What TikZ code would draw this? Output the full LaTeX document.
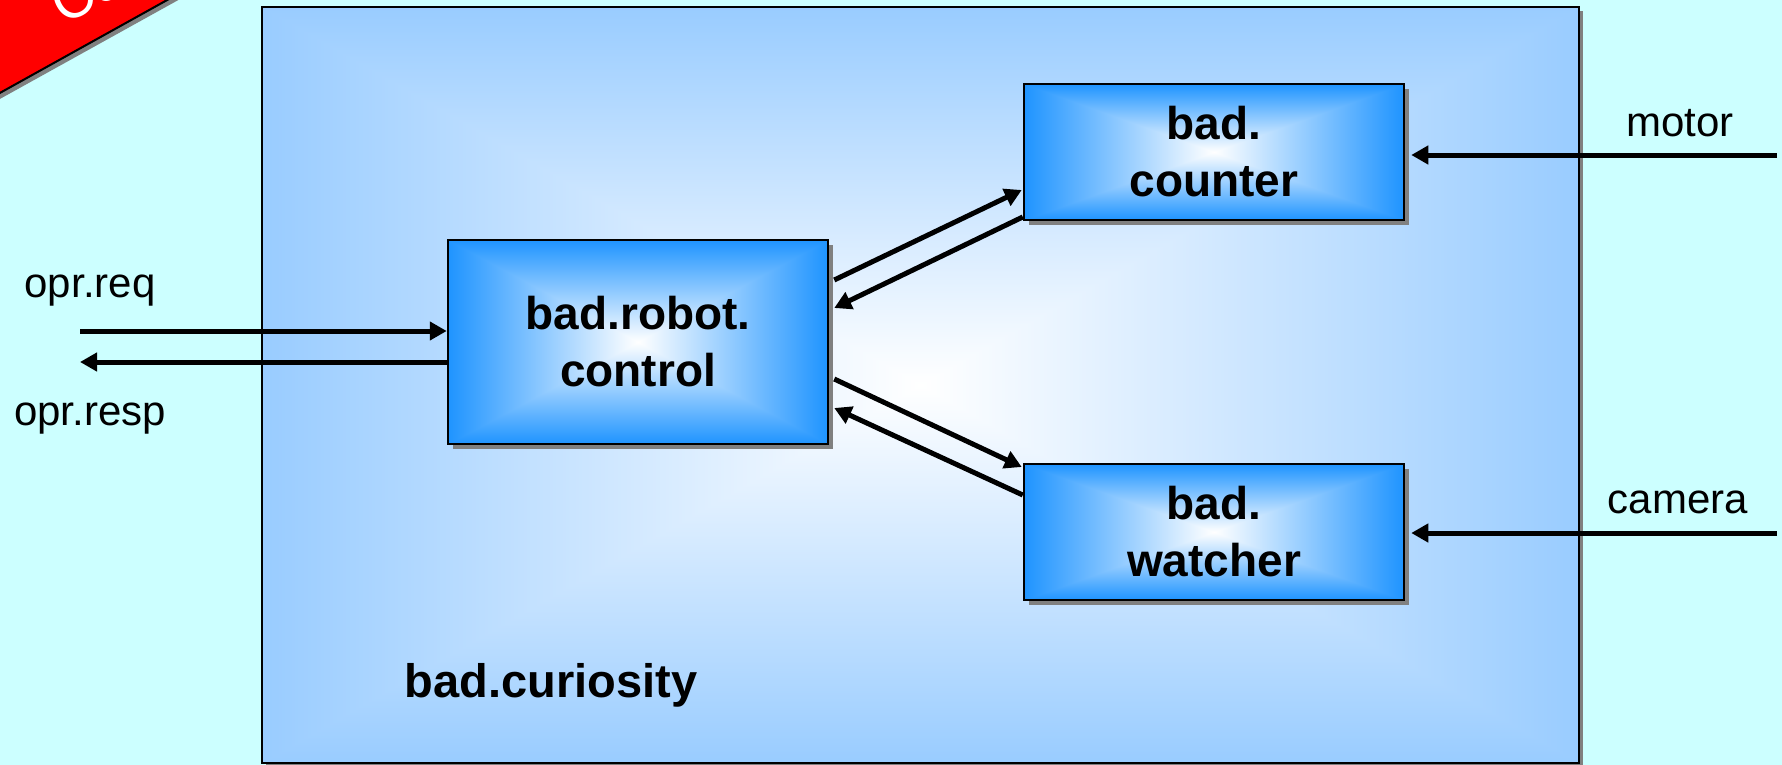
\documentclass[tikz,border=0pt]{standalone}
\usepackage{fontspec}
\setmainfont{Liberation Sans}
\usetikzlibrary{arrows.meta,shadows,calc}
\definecolor{bgcyan}{RGB}{204,255,255}
\definecolor{shadowgray}{RGB}{128,128,128}
\definecolor{bannerred}{RGB}{255,0,0}
\pgfdeclarefunctionalshading{boxgrad}{\pgfpoint{-50bp}{-50bp}}{\pgfpoint{50bp}{50bp}}{}{
abs exch abs 2 copy lt {exch} if pop
25 div dup 1 gt {pop 1} if
dup 0.88 mul 1 exch sub exch
dup 0.42 mul 1 exch sub exch
0.0 mul 1 exch sub
}
\pgfdeclarefunctionalshading{outergrad}{\pgfpoint{-50bp}{-50bp}}{\pgfpoint{50bp}{50bp}}{}{
abs exch abs 2 copy lt {exch} if pop
25 div dup 1 gt {pop 1} if
dup 0.40 mul 1 exch sub exch
dup 0.20 mul 1 exch sub exch
0.0 mul 1 exch sub
}
\tikzset{
  arr/.style={line width=5pt, -{Triangle[length=17pt,width=18pt]}},
  blockbox/.style={draw=black, line width=2.5pt, shade, shading=boxgrad,
    minimum width=380pt, inner sep=0pt, align=center,
    font=\fontsize{46}{57}\selectfont\bfseries,
    drop shadow={shadow xshift=5pt, shadow yshift=-5pt, fill=shadowgray, opacity=1}},
  outerbox/.style={draw=black, line width=2.5pt, shade, shading=outergrad,
    minimum width=1317pt, minimum height=756pt, inner sep=0pt,
    drop shadow={shadow xshift=4pt, shadow yshift=-4pt, fill=shadowgray, opacity=1}},
  lbl/.style={font=\fontsize{42}{50}\selectfont, inner sep=0pt},
  boldlbl/.style={font=\fontsize{47}{57}\selectfont\bfseries, inner sep=0pt},
  bannertext/.style={font=\fontsize{56}{60}\selectfont, text=white, inner sep=0pt},
}
\begin{document}
\begin{tikzpicture}[x=1pt, y=-1pt]
\useasboundingbox (0,0) rectangle (1782,765);
\fill[bgcyan] (0,0) rectangle (1782,765);
% banner
\fill[shadowgray] (-20,110) -- (191,-7) -- (-20,-7) -- cycle;
\filldraw[fill=bannerred, draw=black, line width=2pt] (-20,104) -- (187,-11) -- (-20,-11) -- cycle;
\node[bannertext, anchor=base west, rotate=29] (ban) at (64,26) {Co};
% container
\node[outerbox] (cur) at (920.5,385) {};
\node[boldlbl, anchor=base] (curL) at (551,697) {bad.curiosity};
% blocks
\node[blockbox, minimum height=204pt] (rc) at (638,342) {bad.robot.\\control};
\node[blockbox, minimum height=136pt] (cnt) at (1214,152) {bad.\\counter};
\node[blockbox, minimum height=136pt] (wat) at (1214,532) {bad.\\watcher};
% external ends
\coordinate (reqS) at (80,331);
\coordinate (respE) at (80,362);
\coordinate (motS) at (1777,155);
\coordinate (camS) at (1777,533);
\node[lbl, anchor=base] (reqL) at (90,297) {opr.req};
\node[lbl, anchor=base] (respL) at (90,425) {opr.resp};
\node[lbl, anchor=base] (motL) at (1680,136) {motor};
\node[lbl, anchor=base] (camL) at (1678,513) {camera};
% connectors
\draw[arr] (reqS) -- (reqS -| rc.west);
\draw[arr] (respE -| rc.west) -- (respE);
\draw[arr] (motS) -- ($(motS -| cnt.east)+(6,0)$);
\draw[arr] (camS) -- ($(camS -| wat.east)+(6,0)$);
\draw[arr] ($(rc.east)+(5,-62)$) -- ($(cnt.west)+(-1,38)$);
\draw[arr] ($(cnt.west)+(0,65)$) -- ($(rc.east)+(5,-34)$);
\draw[arr] ($(rc.east)+(5,37)$) -- ($(wat.west)+(-1,-65)$);
\draw[arr] ($(wat.west)+(0,-37)$) -- ($(rc.east)+(5,66)$);
\end{tikzpicture}
\end{document}
